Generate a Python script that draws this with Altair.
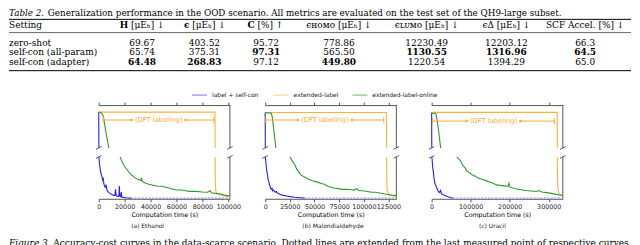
import altair as alt
import pandas as pd

# ---------------- Table 2 data ----------------
TABLE_LABEL = "Table 2."
TABLE_CAPTION = ("Generalization performance in the OOD scenario. All metrics are evaluated "
                 "on the test set of the QH9-large subset.")
SETTING_HEADER = "Setting"
settings = ["zero-shot", "self-con (all-param)", "self-con (adapter)"]
metrics = ["H", "eps", "C", "HOMO", "LUMO", "Delta", "SCF"]
header_symbols = ["H", "ϵ", "C", "ϵ", "ϵ", "ϵ", ""]
header_rests = ["[μEₕ] ↓", "[μEₕ] ↓", "[%] ↑", "ʜᴏᴍᴏ [μEₕ] ↓", "ʟᴜᴍᴏ [μEₕ] ↓",
                "Δ [μEₕ] ↓", "SCF Accel. [%] ↓"]
header_symbol_bold = [1, 1, 1, 0, 0, 0, 0]
vals_zero_shot = ["69.67", "403.52", "95.72", "778.86", "12230.49", "12203.12", "66.3"]
vals_all_param = ["65.74", "375.31", "97.31", "565.50", "1130.55", "1316.96", "64.5"]
vals_adapter = ["64.48", "268.83", "97.12", "449.80", "1220.54", "1394.29", "65.0"]
bold_zero_shot = [0, 0, 0, 0, 0, 0, 0]
bold_all_param = [0, 0, 1, 0, 1, 1, 1]
bold_adapter = [1, 1, 0, 1, 0, 0, 0]

# ---------------- Figure 3 data ----------------
series_names = ["label + self-con", "extended-label", "extended-label-online"]
series_colors = ["#2222ee", "#ffb13b", "#2f9a2f"]
legend_colors = ["#7777ff", "#ffcf80", "#66bb66"]
panel_keys = ["a", "b", "c"]
panel_captions = ["(a) Ethanol", "(b) Malondialdehyde", "(c) Uracil"]
FIG_LABEL = "Figure 3."
FIG_CAPTION = ("Accuracy-cost curves in the data-scarce scenario. Dotted lines are extended "
               "from the last measured point of respective curves.")

# (a) Ethanol
a_blue_x = [0, 200, 600, 1000, 1500, 2000, 2500, 3000, 3500, 4000, 4500, 5000, 5700, 6500, 7500,
            8500, 9500, 10500, 11500, 12500, 13000, 13400, 13900, 15000, 15600, 15900, 16300, 17000,
            17500, 17800, 18300, 19500, 21000, 23000, 25000]
a_blue_y = [0.095, 0.0060, 0.0052, 0.0046, 0.0040, 0.0036, 0.0033, 0.0028, 0.0030, 0.0022, 0.0019,
            0.0017, 0.0021, 0.0012, 0.0010, 0.0008, 0.0007, 0.0006, 0.0005, 0.0005, 0.0014, 0.0005,
            0.0004, 0.0004, 0.0004, 0.0019, 0.0004, 0.0003, 0.0010, 0.0003, 0.0002, 0.0002, 0.00015,
            0.00012, 0.0001]
a_orange_x = [0, 89700, 89900, 90300, 91000, 93000, 97000, 101200]
a_orange_y = [0.095, 0.095, 0.0030, 0.0012, 0.0008, 0.0006, 0.0004, 0.0003]
a_green_x = [0, 1500, 3000, 4000, 5000, 6000, 7000, 7700, 16600, 18000, 20000, 22300, 25000, 28000,
             30000, 32500, 33000, 33600, 35000, 38000, 42000, 45000, 47900, 52000, 56000, 60000,
             64000, 67000, 70000, 75000, 80000, 84000, 86000, 87000, 90000, 94000, 98000, 101200]
a_green_y = [0.095, 0.0945, 0.092, 0.086, 0.074, 0.064, 0.055, 0.047, 0.0062, 0.0055, 0.0048,
             0.0042, 0.0036, 0.0031, 0.0029, 0.0027, 0.0031, 0.0026, 0.0024, 0.0022, 0.0020, 0.0019,
             0.00185, 0.0017, 0.0015, 0.0013, 0.0013, 0.0012, 0.0011, 0.0011, 0.0010, 0.00097,
             0.0012, 0.0009, 0.0008, 0.0007, 0.0005, 0.0004]

# (b) Malondialdehyde
b_blue_x = [0, 200, 600, 1000, 1500, 2000, 2400, 3000, 3500, 4000, 4500, 5000, 5700, 6500, 7000,
            7500, 8500, 9500, 10500, 11500, 12500, 14000, 15500, 17000, 19200, 21000, 23000, 25000,
            30000, 35000, 40000]
b_blue_y = [0.0897, 0.0057, 0.0052, 0.0046, 0.0040, 0.0035, 0.0033, 0.0027, 0.0024, 0.0022, 0.0019,
            0.0017, 0.0014, 0.0013, 0.0015, 0.0011, 0.0012, 0.0010, 0.0009, 0.0010, 0.0008, 0.0007,
            0.0006, 0.0005, 0.00046, 0.0004, 0.00035, 0.0003, 0.0002, 0.00015, 0.0001]
b_orange_x = [0, 123000, 123200, 123700, 124500, 127000, 130000, 133000]
b_orange_y = [0.0897, 0.0897, 0.0030, 0.0012, 0.0008, 0.0005, 0.0004, 0.0003]
b_green_x = [0, 3000, 5000, 6400, 7400, 8500, 9700, 10800, 25300, 27000, 29300, 32000, 36100, 40000,
             44000, 48000, 53000, 57000, 60000, 64000, 69700, 74000, 78000, 82000, 86600, 90000,
             93000, 95000, 99000, 103500, 108000, 112000, 116000, 120300, 124000, 128000, 133000]
b_green_y = [0.0895, 0.0890, 0.0892, 0.0885, 0.082, 0.070, 0.057, 0.0443, 0.0058, 0.0053, 0.0049,
             0.0041, 0.0033, 0.0030, 0.0027, 0.0025, 0.0023, 0.0021, 0.0020, 0.0017, 0.0015, 0.0014,
             0.0013, 0.0013, 0.00129, 0.0012, 0.0014, 0.0011, 0.0011, 0.00101, 0.0009, 0.0009,
             0.0008, 0.0007, 0.0006, 0.0005, 0.00046]

# (c) Uracil
c_blue_x = [0, 500, 1500, 2500, 4300, 6000, 8400, 10500, 12500, 15000, 17000, 20000, 23000, 25000,
            29600, 35000, 42000, 50000, 55000]
c_blue_y = [0.0673, 0.0041, 0.0037, 0.0031, 0.00265, 0.0020, 0.0015, 0.0013, 0.0011, 0.0009,
            0.00071, 0.0006, 0.0008, 0.0005, 0.0004, 0.0003, 0.0002, 0.0001, 0.00007]
c_orange_x = [0, 321700, 322000, 323000, 325000, 330000, 336000]
c_orange_y = [0.0673, 0.0673, 0.0030, 0.0010, 0.0006, 0.0004, 0.0003]
c_green_x = [0, 2600, 8000, 11000, 14000, 17000, 20000, 23000, 65400, 68000, 72300, 76000, 80800,
             86000, 90000, 97800, 105000, 112000, 120000, 130000, 140400, 150000, 158000, 166000,
             175000, 185000, 195500, 198000, 200000, 212000, 225500, 240000, 255000, 268000,
             275000, 282000, 295000, 310000, 322000, 336000]
c_green_y = [0.0665, 0.0665, 0.0662, 0.0660, 0.060, 0.0521, 0.043, 0.0333, 0.0041, 0.0039,
             0.00378, 0.0035, 0.0032, 0.0030, 0.0027, 0.0025, 0.0023, 0.0022, 0.0020, 0.0019,
             0.00174, 0.0016, 0.0015, 0.00135, 0.0013, 0.00125, 0.0012, 0.0015, 0.00115, 0.0010,
             0.0009, 0.0008, 0.00075, 0.00071, 0.0008, 0.00065, 0.0006, 0.0005, 0.0004, 0.00032]

# axis settings per panel
x_max = [101200, 133000, 336000]
x_ticks = [[0, 20000, 40000, 60000, 80000, 100000],
           [0, 25000, 50000, 75000, 100000, 125000],
           [0, 100000, 200000, 300000]]
upper_domain = [[0.0471, 0.1044], [0.0443, 0.0991], [0.0333, 0.0743]]
lower_top = [0.00622, 0.00579, 0.00407]
upper_ticks = [[0.06, 0.08, 0.10], [0.06, 0.08], [0.04, 0.06]]
lower_ticks = [[0, 0.0025, 0.005], [0, 0.002, 0.004], [0, 0.002, 0.004]]
lower_fmt = [".4f", ".3f", ".3f"]
ann_start = [3500, 700, 2500]
ann_end = [88900, 120300, 314800]
ann_level = [0.0844, 0.080, 0.059]
ANN_TEXT = "(DFT labeling)"
Y_TITLE = "Hamiltonian MAE (μEₕ)"
X_TITLE = "Computation time (s)"

# ---------------- build tables ----------------
rows = []
for ri, (vals, bolds) in enumerate([(vals_zero_shot, bold_zero_shot),
                                    (vals_all_param, bold_all_param),
                                    (vals_adapter, bold_adapter)]):
    for ci, (v, b) in enumerate(zip(vals, bolds)):
        rows.append({"ri": ri, "ci": ci, "value": v, "bold": b})
cells_df = pd.DataFrame(rows)
settings_df = pd.DataFrame({"ri": range(len(settings)), "setting": settings})
head_df = pd.DataFrame({"ci": range(len(metrics)), "sym": header_symbols, "rest": header_rests,
                        "sb": header_symbol_bold,
                        "full": [s + r for s, r in zip(header_symbols, header_rests)]})
legend_df = pd.DataFrame({"li": range(3), "name": series_names})
cap_df = pd.DataFrame({"k": range(3), "cap": panel_captions})
one = pd.DataFrame({"v": [0]})

blue_sets = [(a_blue_x, a_blue_y), (b_blue_x, b_blue_y), (c_blue_x, c_blue_y)]
orange_sets = [(a_orange_x, a_orange_y), (b_orange_x, b_orange_y), (c_orange_x, c_orange_y)]
green_sets = [(a_green_x, a_green_y), (b_green_x, b_green_y), (c_green_x, c_green_y)]

line_rows, ext_rows = [], []
for p, key in enumerate(panel_keys):
    for name, (xs, ys) in zip(series_names, [blue_sets[p], orange_sets[p], green_sets[p]]):
        for i, (xv, yv) in enumerate(zip(xs, ys)):
            line_rows.append({"panel": key, "series": name, "i": i, "x": xv, "y": yv})
    bx, by = blue_sets[p]
    ext_rows.append({"panel": key, "i": 0, "x": bx[-1], "y": by[-1]})
    ext_rows.append({"panel": key, "i": 1, "x": x_max[p], "y": by[-1]})
lines_df = pd.DataFrame(line_rows)
ext_df = pd.DataFrame(ext_rows)

# ---------------- layout constants ----------------
W = 624
SERIF = "DejaVu Serif"
SANS = "DejaVu Sans"
FS = 9.0
FR = "#555555"
TXT = "#222222"
col_centers = [133.5, 196, 258, 331, 419, 499, 578]
sym_anchors = [119.5, 181.0, 246.5]
row_ys = [34.3, 44, 53.7]
legend_xs = [191.2, 273, 352]
cap_xs = [139, 325, 485]
TITLE_Y = 5
HEAD_Y = 17
TOP = 97                      # top of the plot panels (in chart pixels)
P_W = 131.6
UP_H, GAP, LOW_H = 43, 9, 42
P_B = TOP + UP_H + GAP + LOW_H  # bottom of plot panels

col_scale = alt.Scale(domain=list(range(len(metrics))), range=col_centers)
anchor_scale = alt.Scale(domain=[0, 1, 2], range=sym_anchors)
row_scale = alt.Scale(domain=[0, 1, 2], range=row_ys)
legend_scale = alt.Scale(domain=[0, 1, 2], range=legend_xs)
cap_scale = alt.Scale(domain=[0, 1, 2], range=cap_xs)


def txt(data, **kw):
    base = dict(font=SERIF, fontSize=FS, baseline="middle", color="black")
    base.update(kw)
    return alt.Chart(data).mark_text(**base)


def hrule(yv, sw):
    return alt.Chart(one).mark_rule(color="black", strokeWidth=sw).encode(
        x=alt.value(0), x2=alt.value(W), y=alt.value(yv), y2=alt.value(yv))


# ---------------- text strip: table, legend and captions ----------------
t_label = txt(one, fontStyle="italic", align="left", fontSize=8.8).encode(
    x=alt.value(0), y=alt.value(TITLE_Y), text=alt.value(TABLE_LABEL))
t_caption = txt(one, align="left", fontSize=8.8).encode(
    x=alt.value(39), y=alt.value(TITLE_Y), text=alt.value(TABLE_CAPTION))
t_setting_head = txt(one, align="left").encode(
    x=alt.value(0), y=alt.value(HEAD_Y), text=alt.value(SETTING_HEADER))
t_sym = txt(head_df, fontWeight="bold", align="right").transform_filter("datum.sb == 1").encode(
    x=alt.X("ci:Q", scale=anchor_scale, axis=None), y=alt.value(HEAD_Y), text="sym:N")
t_rest = txt(head_df, align="left", dx=2.8).transform_filter("datum.sb == 1").encode(
    x=alt.X("ci:Q", scale=anchor_scale, axis=None), y=alt.value(HEAD_Y), text="rest:N")
t_full = txt(head_df, align="center").transform_filter("datum.sb == 0").encode(
    x=alt.X("ci:Q", scale=col_scale, axis=None), y=alt.value(HEAD_Y), text="full:N")
t_settings = txt(settings_df, align="left").encode(
    x=alt.value(0), y=alt.Y("ri:Q", scale=row_scale, axis=None), text="setting:N")
t_cells_n = txt(cells_df, align="center").transform_filter("datum.bold == 0").encode(
    x=alt.X("ci:Q", scale=col_scale, axis=None), y=alt.Y("ri:Q", scale=row_scale, axis=None),
    text="value:N")
t_cells_b = txt(cells_df, align="center", fontWeight="bold").transform_filter(
    "datum.bold == 1").encode(
    x=alt.X("ci:Q", scale=col_scale, axis=None), y=alt.Y("ri:Q", scale=row_scale, axis=None),
    text="value:N")
t_leg_line = alt.Chart(legend_df).mark_point(shape="M-1,0L1,0", size=225, filled=False,
                                             strokeWidth=1.4).encode(
    x=alt.X("li:Q", scale=legend_scale, axis=None), y=alt.value(87),
    stroke=alt.Stroke("name:N", scale=alt.Scale(domain=series_names, range=legend_colors),
                      legend=None))
t_leg_text = alt.Chart(legend_df).mark_text(font=SANS, fontSize=6, align="left", baseline="middle",
                                            dx=12.5, color=TXT).encode(
    x=alt.X("li:Q", scale=legend_scale, axis=None), y=alt.value(87), text="name:N")
sub_caps = alt.Chart(cap_df).mark_text(font=SANS, fontSize=6, color=TXT, baseline="middle").encode(
    x=alt.X("k:Q", scale=cap_scale, axis=None), y=alt.value(218), text="cap:N")
fig_label = txt(one, fontStyle="italic", align="left", baseline="alphabetic").encode(
    x=alt.value(0), y=alt.value(238), text=alt.value(FIG_LABEL))
fig_cap = txt(one, align="left", baseline="alphabetic").encode(
    x=alt.value(44.5), y=alt.value(238), text=alt.value(FIG_CAPTION))

strip = alt.layer(
    t_label, t_caption, hrule(11, 1.0), t_setting_head, t_sym, t_rest, t_full, hrule(24.3, 0.6),
    t_settings, t_cells_n, t_cells_b, hrule(62.5, 1.0), t_leg_line, t_leg_text,
    sub_caps, fig_label, fig_cap
).resolve_scale(x="independent", y="independent").properties(width=54.7, height=P_B)


# ---------------- panels ----------------
def panel(p):
    key = panel_keys[p]
    d = lines_df[lines_df.panel == key]
    e = ext_df[ext_df.panel == key]
    xs = alt.Scale(domain=[0, x_max[p]], nice=False, zero=False)
    ys = alt.Scale(domain=[0, lower_top[p], upper_domain[p][0], upper_domain[p][1]],
                   range=[P_B, P_B - LOW_H, TOP + UP_H, TOP], nice=False, zero=False)
    x_axis = alt.Axis(values=x_ticks[p], format="d", title=X_TITLE, grid=False, domainColor=FR,
                      tickColor=FR, tickSize=3, labelFontSize=6.4, labelColor=TXT, labelFont=SANS,
                      labelFlush=False, labelOverlap=False, labelBound=False, labelPadding=1.5,
                      titleFont=SANS, titleFontSize=6.3, titleFontWeight="normal",
                      titleColor="black", titlePadding=1.5)
    y_kwargs = dict(values=lower_ticks[p] + upper_ticks[p], grid=False, domainColor=FR,
                    tickColor=FR, tickSize=3, labelFontSize=6.4, labelColor=TXT, labelFont=SANS,
                    labelPadding=1.5, labelFlush=False, labelOverlap=False,
                    labelExpr=("datum.value > 0.02 ? format(datum.value, '.2f') : "
                               f"format(datum.value, '{lower_fmt[p]}')"))
    if p == 0:
        y_axis = alt.Axis(title=Y_TITLE, titleFont=SANS, titleFontSize=6.2,
                          titleFontWeight="normal", titleColor="black", titlePadding=3,
                          titleY=TOP + 55, **y_kwargs)
    else:
        y_axis = alt.Axis(title=None, **y_kwargs)

    right_edge = alt.Chart(one).mark_rule(color=FR, strokeWidth=1).encode(
        x=alt.value(P_W), x2=alt.value(P_W), y=alt.value(TOP), y2=alt.value(P_B))
    lines = alt.Chart(d).mark_line(strokeWidth=1.1).encode(
        x=alt.X("x:Q", scale=xs, axis=x_axis),
        y=alt.Y("y:Q", scale=ys, axis=y_axis),
        color=alt.Color("series:N", scale=alt.Scale(domain=series_names, range=series_colors),
                        legend=None),
        order="i:Q")
    ext = alt.Chart(e).mark_line(strokeWidth=1.1, strokeDash=[2, 1.5], color="#8f90ff").encode(
        x=alt.X("x:Q", scale=xs, axis=None), y=alt.Y("y:Q", scale=ys, axis=None), order="i:Q")
    top_axis = alt.Chart(one).mark_point(opacity=0).encode(
        x=alt.X("v:Q", scale=xs, axis=alt.Axis(orient="top", offset=-TOP, values=x_ticks[p],
                                                labels=False, title=None, grid=False,
                                                domainColor=FR, tickColor=FR, tickSize=3)),
        y=alt.value(TOP))
    # white cover for the axis break
    gap = alt.Chart(one).mark_rect(color="white").encode(
        x=alt.value(-5), x2=alt.value(P_W + 5), y=alt.value(TOP + UP_H),
        y2=alt.value(TOP + UP_H + GAP))
    breaks = [alt.Chart(one).mark_point(shape="M-1,0.5L1,-0.5", size=30, filled=False, color=FR,
                                        strokeWidth=1, opacity=1).encode(
        x=alt.value(bx), y=alt.value(by))
        for bx in (0, P_W) for by in (TOP + UP_H, TOP + UP_H + GAP)]

    ann = pd.DataFrame({"x0": [ann_start[p]], "x1": [ann_end[p]],
                        "xm": [(ann_start[p] + ann_end[p]) / 2], "y": [ann_level[p]]})
    OR = "#ffaa33"
    base = alt.Chart(ann)
    seg_l = base.mark_rule(color=OR, strokeWidth=1, x2Offset=-26).encode(
        x=alt.X("x0:Q", scale=xs, axis=None), x2="xm:Q", y=alt.Y("y:Q", scale=ys, axis=None))
    seg_r = base.mark_rule(color=OR, strokeWidth=1, xOffset=26).encode(
        x=alt.X("xm:Q", scale=xs, axis=None), x2="x1:Q", y=alt.Y("y:Q", scale=ys, axis=None))
    bar_l = base.mark_rule(color=OR, strokeWidth=1, yOffset=-3, y2Offset=3).encode(
        x=alt.X("x0:Q", scale=xs, axis=None), y=alt.Y("y:Q", scale=ys, axis=None), y2="y:Q")
    bar_r = base.mark_rule(color=OR, strokeWidth=1, yOffset=-3, y2Offset=3).encode(
        x=alt.X("x1:Q", scale=xs, axis=None), y=alt.Y("y:Q", scale=ys, axis=None), y2="y:Q")
    head_l = base.mark_point(shape="triangle-right", filled=True, size=12, color=OR, opacity=1,
                             xOffset=-26.5).encode(
        x=alt.X("xm:Q", scale=xs, axis=None), y=alt.Y("y:Q", scale=ys, axis=None))
    head_r = base.mark_point(shape="triangle-left", filled=True, size=12, color=OR, opacity=1,
                             xOffset=26.5).encode(
        x=alt.X("xm:Q", scale=xs, axis=None), y=alt.Y("y:Q", scale=ys, axis=None))
    label = base.mark_text(font=SANS, fontSize=6.8, color=OR, baseline="middle").encode(
        x=alt.X("xm:Q", scale=xs, axis=None), y=alt.Y("y:Q", scale=ys, axis=None),
        text=alt.value(ANN_TEXT))

    return alt.layer(right_edge, lines, ext, top_axis, gap, *breaks, seg_l, seg_r, bar_l,
                     bar_r, head_l, head_r, label).resolve_axis(x="independent").properties(
        width=P_W, height=P_B)


chart = alt.hconcat(strip, panel(0), panel(1), panel(2), spacing=35, bounds="flush").properties(
    padding=0).configure_view(stroke=None)

chart.save("out.html", embed_options={"renderer": "svg", "actions": False})
